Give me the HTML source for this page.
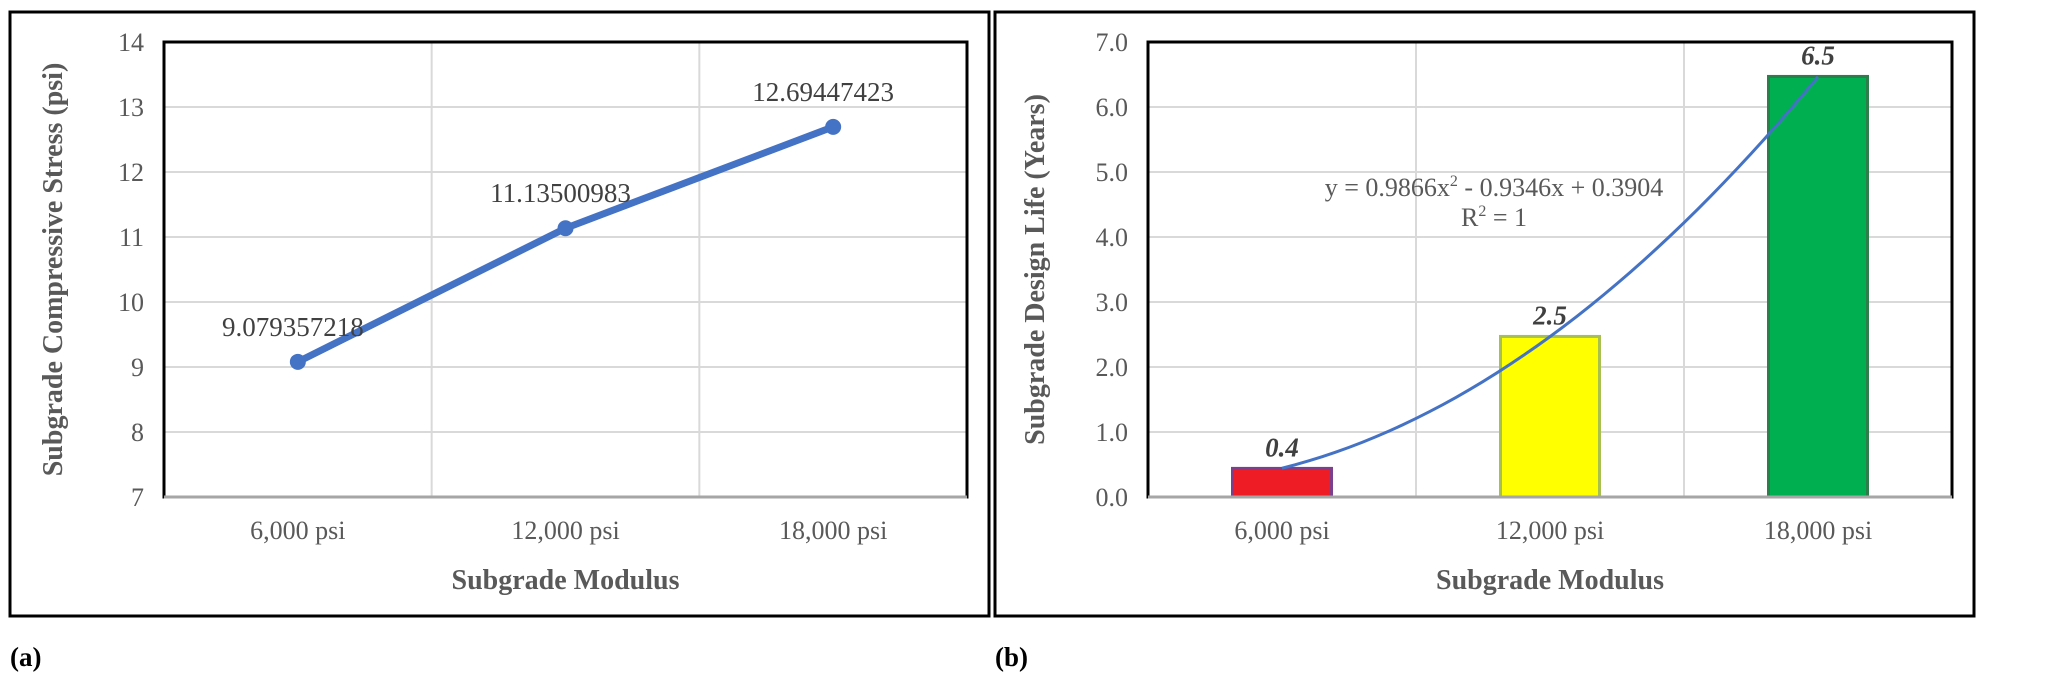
<!DOCTYPE html>
<html><head><meta charset="utf-8"><style>
body{margin:0;background:#fff;width:2046px;height:694px;overflow:hidden}
svg{display:block}
text{font-family:"Liberation Serif",serif}
</style></head><body>
<svg id="root" width="2046" height="694" xmlns="http://www.w3.org/2000/svg">
<rect x="10" y="12" width="979" height="604" fill="none" stroke="#000" stroke-width="3"/>
<rect x="995" y="12" width="979" height="604" fill="none" stroke="#000" stroke-width="3"/>
<text x="10" y="666" font-size="27" font-weight="bold" font-family="Liberation Sans">(a)</text>
<text x="995" y="666" font-size="27" font-weight="bold" font-family="Liberation Sans">(b)</text>
<g id="ga"></g><g id="gb"></g>
</svg>
<script>
const categories=["6,000 psi","12,000 psi","18,000 psi"];
const stressValues=[9.079357218,11.13500983,12.69447423];
const stressLabels=["9.079357218","11.13500983","12.69447423"];
const stressTicks=[7,8,9,10,11,12,13,14];
const lifeValues=[0.44,2.47,6.47];
const lifeLabels=["0.4","2.5","6.5"];
const lifeTicks=[0,1,2,3,4,5,6,7];
const trendCoef=[0.9866,-0.9346,0.3904];
const barColors=["#ee1c24","#ffff00","#00b050"];
const barStroke=["#7b3f8c","#a8c050","#2e7d4a"];
const NS="http://www.w3.org/2000/svg";
function mk(p,t,a,txt){const e=document.createElementNS(NS,t);for(const k in a)e.setAttribute(k,a[k]);if(txt!==undefined)e.textContent=txt;p.appendChild(e);return e;}
function frame(g,L,T,R,B,ticks,fmt){
  const y=v=>B-(v-ticks[0])/(ticks[ticks.length-1]-ticks[0])*(B-T);
  const bw=(R-L)/categories.length;
  const x=i=>L+bw*(i+0.5);
  ticks.forEach(t=>{
    const l=mk(g,'line',{x1:L,x2:R,y1:y(t),y2:y(t),stroke:'#d9d9d9','stroke-width':2});
    
    const tx=mk(g,'text',{x:L-20,y:y(t)+9,'font-size':26,fill:'#595959','text-anchor':'end'},fmt(t));
    
  });
  for(let i=1;i<categories.length;i++){
    const l=mk(g,'line',{x1:L+bw*i,x2:L+bw*i,y1:T,y2:B,stroke:'#d9d9d9','stroke-width':2});
    
  }
  categories.forEach((c,i)=>{
    const tx=mk(g,'text',{x:x(i),y:B+42,'font-size':26,fill:'#595959','text-anchor':'middle'},c);
    
  });
  const xt=mk(g,'text',{x:(L+R)/2,y:B+92,'font-size':28,'font-weight':'bold',fill:'#595959','text-anchor':'middle'},'Subgrade Modulus');
  
  return {y,x,bw};
}
function border(g,L,T,R,B){
  const r=mk(g,'rect',{x:L,y:T,width:R-L,height:B-T,fill:'none',stroke:'#000','stroke-width':3});
  
  const a=mk(g,'line',{x1:L,x2:R,y1:B,y2:B,stroke:'#a6a6a6','stroke-width':3});
  
}
// Panel A
(function(){
  const g=document.getElementById('ga');const L=164,T=42,R=967,B=497;
  const s=frame(g,L,T,R,B,stressTicks,t=>String(t));
  border(g,L,T,R,B);
  const yt=mk(g,'text',{transform:`translate(62,${(T+B)/2}) rotate(-90)`,'font-size':28,'font-weight':'bold',fill:'#595959','text-anchor':'middle'},'Subgrade Compressive Stress (psi)');
  
  const pts=stressValues.map((v,i)=>s.x(i)+','+s.y(v)).join(' ');
  const pl=mk(g,'polyline',{points:pts,fill:'none',stroke:'#4472c4','stroke-width':7,'stroke-linejoin':'round'});
  
  stressValues.forEach((v,i)=>{
    const c=mk(g,'circle',{cx:s.x(i),cy:s.y(v),r:8,fill:'#4472c4'});
    
    const t=mk(g,'text',{x:s.x(i)+(i==2?-10:-5),y:s.y(v)-26,'font-size':27,fill:'#404040','text-anchor':'middle'},stressLabels[i]);
    
  });
})();
// Panel B
(function(){
  const g=document.getElementById('gb');const L=1148,T=42,R=1952,B=497;
  const s=frame(g,L,T,R,B,lifeTicks,t=>t.toFixed(1));
  const yt=mk(g,'text',{transform:`translate(1044,${(T+B)/2}) rotate(-90)`,'font-size':28,'font-weight':'bold',fill:'#595959','text-anchor':'middle'},'Subgrade Design Life (Years)');
  
  const bw=99;
  lifeValues.forEach((v,i)=>{
    const r=mk(g,'rect',{x:s.x(i)-bw/2,y:s.y(v),width:bw,height:B-s.y(v),fill:barColors[i],stroke:barStroke[i],'stroke-width':3});
    
    const t=mk(g,'text',{x:s.x(i),y:s.y(v)-12,'font-size':27,'font-weight':'bold','font-style':'italic',fill:'#404040','text-anchor':'middle'},lifeLabels[i]);
    
  });
  border(g,L,T,R,B);
  let d='';
  for(let k=0;k<=40;k++){const xv=1+2*k/40;const yv=trendCoef[0]*xv*xv+trendCoef[1]*xv+trendCoef[2];
    const px=s.x(0)+(xv-1)*s.bw;d+=(k?'L':'M')+px+','+s.y(yv);}
  const tl=mk(g,'path',{d:d,fill:'none',stroke:'#4472c4','stroke-width':3});
  
  const eq=mk(g,'text',{x:1494,y:196,'font-size':26,fill:'#595959','text-anchor':'middle'});
  
  eq.innerHTML='y = 0.9866x<tspan dy="-10" font-size="16">2</tspan><tspan dy="10"> - 0.9346x + 0.3904</tspan>';
  const r2=mk(g,'text',{x:1494,y:226,'font-size':26,fill:'#595959','text-anchor':'middle'});
  
  r2.innerHTML='R<tspan dy="-10" font-size="16">2</tspan><tspan dy="10"> = 1</tspan>';
})();
</script>
</body></html>
